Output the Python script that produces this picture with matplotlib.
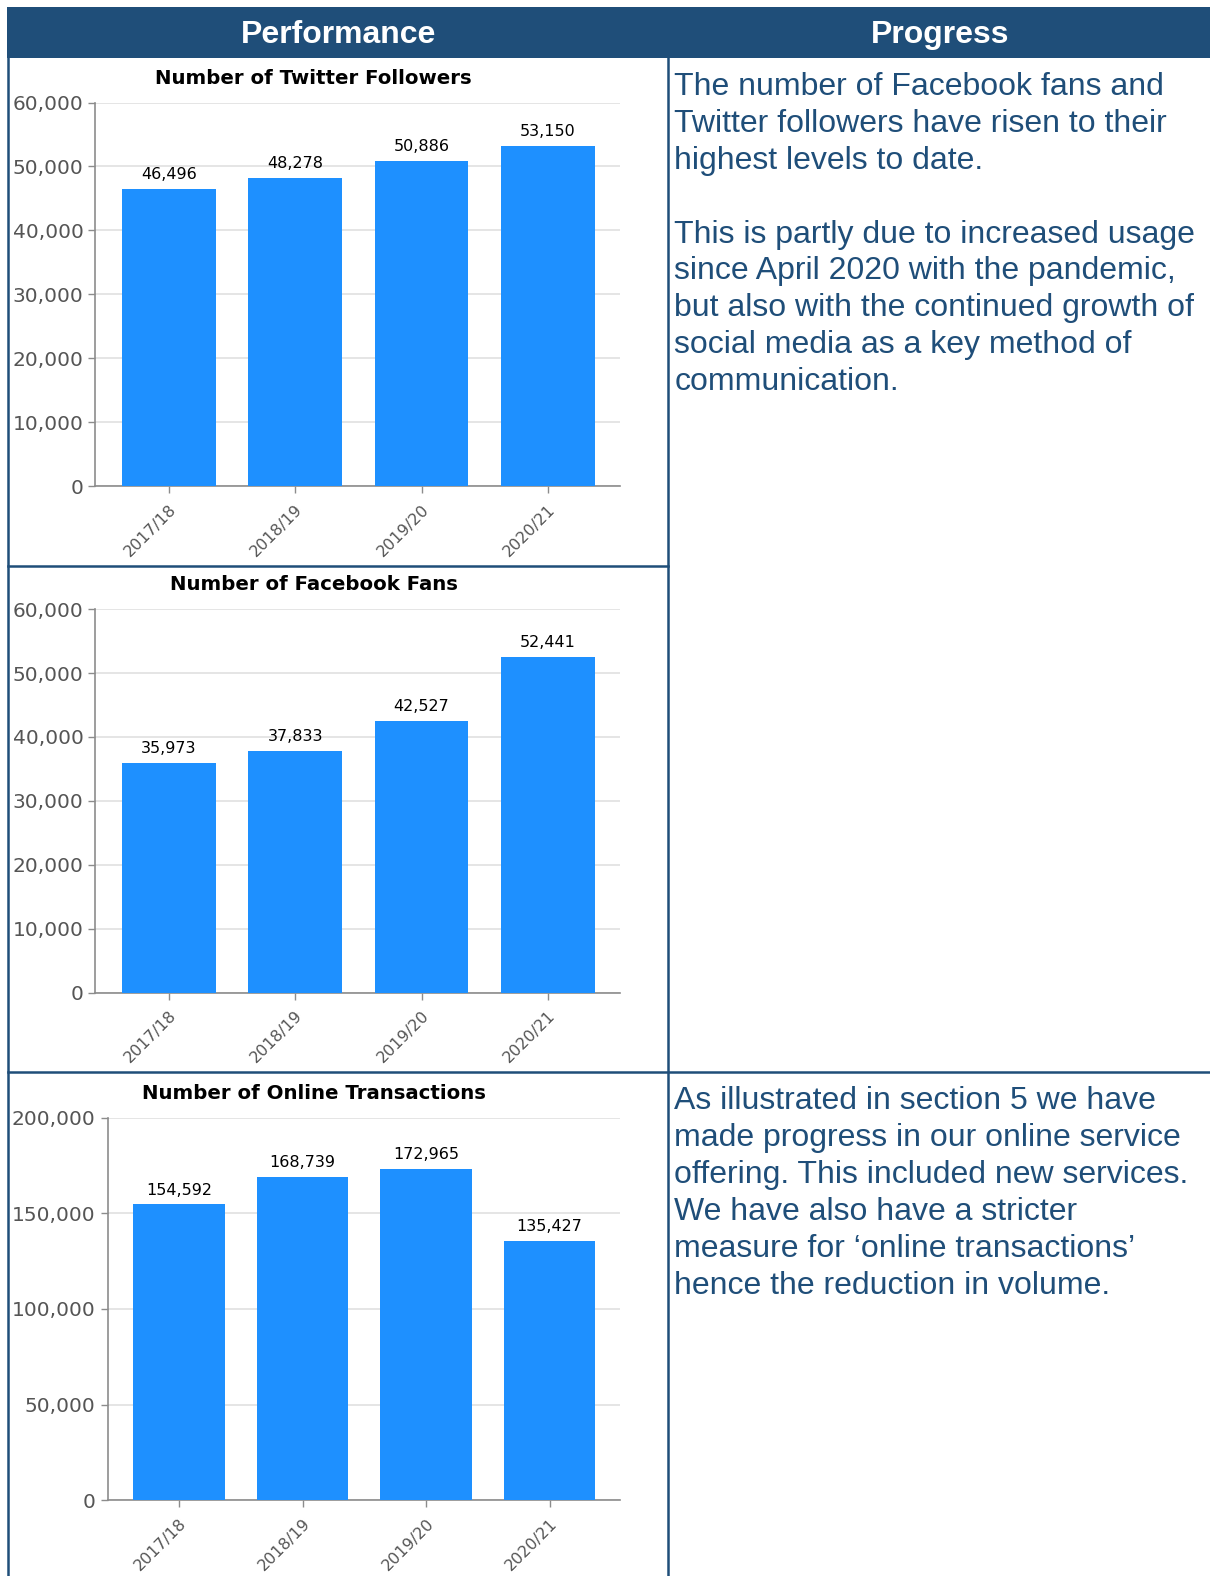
import matplotlib.pyplot as plt
from matplotlib.ticker import FuncFormatter, MultipleLocator
from matplotlib.lines import Line2D
from matplotlib.patches import Rectangle

W, H = 1210, 1576
S = 1210 / 1204
NAVY = '#1F4E79'
BAR = '#1E90FF'

years = ['2017/18', '2018/19', '2019/20', '2020/21']
twitter = [46496, 48278, 50886, 53150]
facebook = [35973, 37833, 42527, 52441]
online = [154592, 168739, 172965, 135427]

text_social = ['The number of Facebook fans and',
               'Twitter followers have risen to their',
               'highest levels to date.',
               '',
               'This is partly due to increased usage',
               'since April 2020 with the pandemic,',
               'but also with the continued growth of',
               'social media as a key method of',
               'communication.']
text_online = ['As illustrated in section 5 we have',
               'made progress in our online service',
               'offering. This included new services.',
               'We have also have a stricter',
               'measure for \u2018online transactions\u2019',
               'hence the reduction in volume.']


def fx(px):
    return px * S / W


def fy(py):
    return 1 - py * S / H


fig = plt.figure(figsize=(W / 100, H / 100), dpi=100)

# header band
fig.patches.append(Rectangle((fx(7), fy(58)), 1 - fx(7), 51 * S / H, transform=fig.transFigure,
                             facecolor=NAVY, edgecolor='none'))
fig.text(fx(337), fy(34.5), 'Performance', color='white', fontsize=23, fontweight='bold',
         family='Liberation Sans', ha='center', va='center')
fig.text(fx(935), fy(34.5), 'Progress', color='white', fontsize=23, fontweight='bold',
         family='Liberation Sans', ha='center', va='center')

# table lines
for (x0, y0, x1, y1) in [(8, 58, 8, 1580), (665, 58, 665, 1580), (8, 563, 665, 563),
                         (8, 1067, 1210, 1067)]:
    fig.add_artist(Line2D([fx(x0), fx(x1)], [fy(y0), fy(y1)], transform=fig.transFigure,
                          color=NAVY, lw=1.8))


def draw_chart(left, top, bottom, values, title, ymax, step):
    ax = fig.add_axes([fx(left), fy(bottom), fx(617) - fx(left), fy(top) - fy(bottom)])
    x = range(len(values))
    ax.bar(x, values, width=0.74, color=BAR, zorder=3)
    ax.set_xlim(-0.58, 3.57)
    ax.set_ylim(0, ymax)
    ax.yaxis.set_major_locator(MultipleLocator(step))
    ax.yaxis.set_major_formatter(FuncFormatter(lambda v, p: f'{int(v):,}'))
    ax.grid(axis='y', color='#E0E0E0', lw=1.2, zorder=0)
    for s in ['top', 'right']:
        ax.spines[s].set_visible(False)
    for s in ['left', 'bottom']:
        ax.spines[s].set_color('#8C8C8C')
        ax.spines[s].set_linewidth(1.2)
    ax.set_xticks(list(x))
    ax.set_xticklabels(years, rotation=45, ha='right', rotation_mode='anchor')
    ax.tick_params(axis='both', colors='#8C8C8C', labelcolor='#555555', length=5, width=1)
    ax.tick_params(axis='y', labelsize=14.5)
    ax.tick_params(axis='x', labelsize=11.5, pad=6)
    for xi, v in zip(x, values):
        ax.annotate(f'{v:,}', (xi, v), xytext=(0, 5), textcoords='offset points',
                    ha='center', va='bottom', fontsize=11.5, color='black')
    fig.text(fx(312), fy(top - 24), title, ha='center', va='center', fontsize=14.2,
             fontweight='bold', color='black')
    return ax


draw_chart(95, 102, 484, twitter, 'Number of Twitter Followers', 60000, 10000)
draw_chart(95, 606, 988, facebook, 'Number of Facebook Fans', 60000, 10000)
draw_chart(107, 1112, 1493, online, 'Number of Online Transactions', 200000, 50000)

for i, line in enumerate(text_social):
    fig.text(fx(671), fy(87 + i * 36.6), line, color=NAVY, fontsize=23,
             family='Liberation Sans', ha='left', va='center')
for i, line in enumerate(text_online):
    fig.text(fx(671), fy(1096 + i * 36.7), line, color=NAVY, fontsize=23,
             family='Liberation Sans', ha='left', va='center')

fig.savefig('out.png', dpi=100, facecolor='white')
